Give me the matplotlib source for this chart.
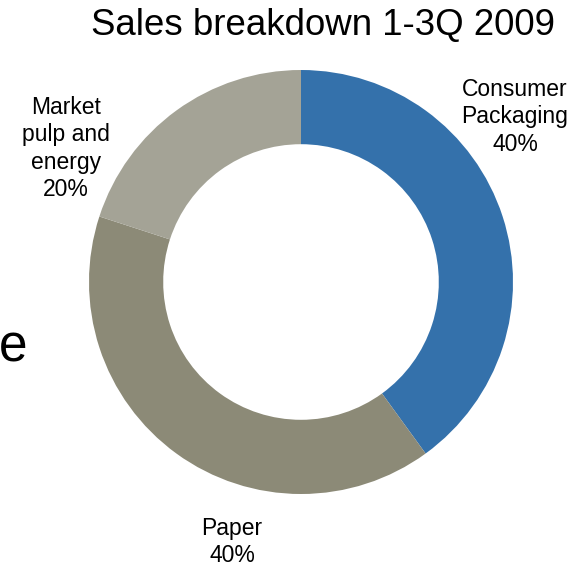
import matplotlib.pyplot as plt

# sales share per segment, clockwise from 12 o'clock
segmenten = ["Consumer\nPackaging", "Paper", "Market\npulp and\nenergy"]
aandelen = [40, 40, 20]
kleuren = ["#3471AB", "#8C8A77", "#A4A396"]
titel = "Sales breakdown 1-3Q 2009"

plt.rcParams['font.family'] = ['Liberation Sans', 'DejaVu Sans']

W, H = 581, 567
fig = plt.figure(figsize=(W / 100, H / 100), dpi=100)
# axes box so that the ring centre sits at (301, 282) px, outer radius 212 px
ax = fig.add_axes([89 / W, (H - 282 - 212) / H, 424 / W, 424 / H])
ax.pie(aandelen, colors=kleuren, startangle=90, counterclock=False,
       radius=1.0, wedgeprops=dict(width=0.35, edgecolor='none'))
ax.set_xlim(-1, 1)
ax.set_ylim(-1, 1)
ax.set_aspect('equal')
ax.axis('off')

# label anchor: centre x, baseline of last line (pixels from top-left)
label_pos = [(515, 151), (232, 562), (66, 196)]
for naam, pct, (px, py) in zip(segmenten, aandelen, label_pos):
    fig.text(px / W, 1 - py / H, f"{naam}\n{pct}%", ha='center', va='baseline',
             multialignment='center', fontsize=16.5, linespacing=1.25)

fig.text(91 / W, 1 - 35 / H, titel, ha='left', va='baseline', fontsize=26.4)
# leftover letter from the slide next to the chart
fig.text(-1 / W, 1 - 362 / H, "e", ha='left', va='baseline', fontsize=37)

fig.savefig("out.png", dpi=100)
